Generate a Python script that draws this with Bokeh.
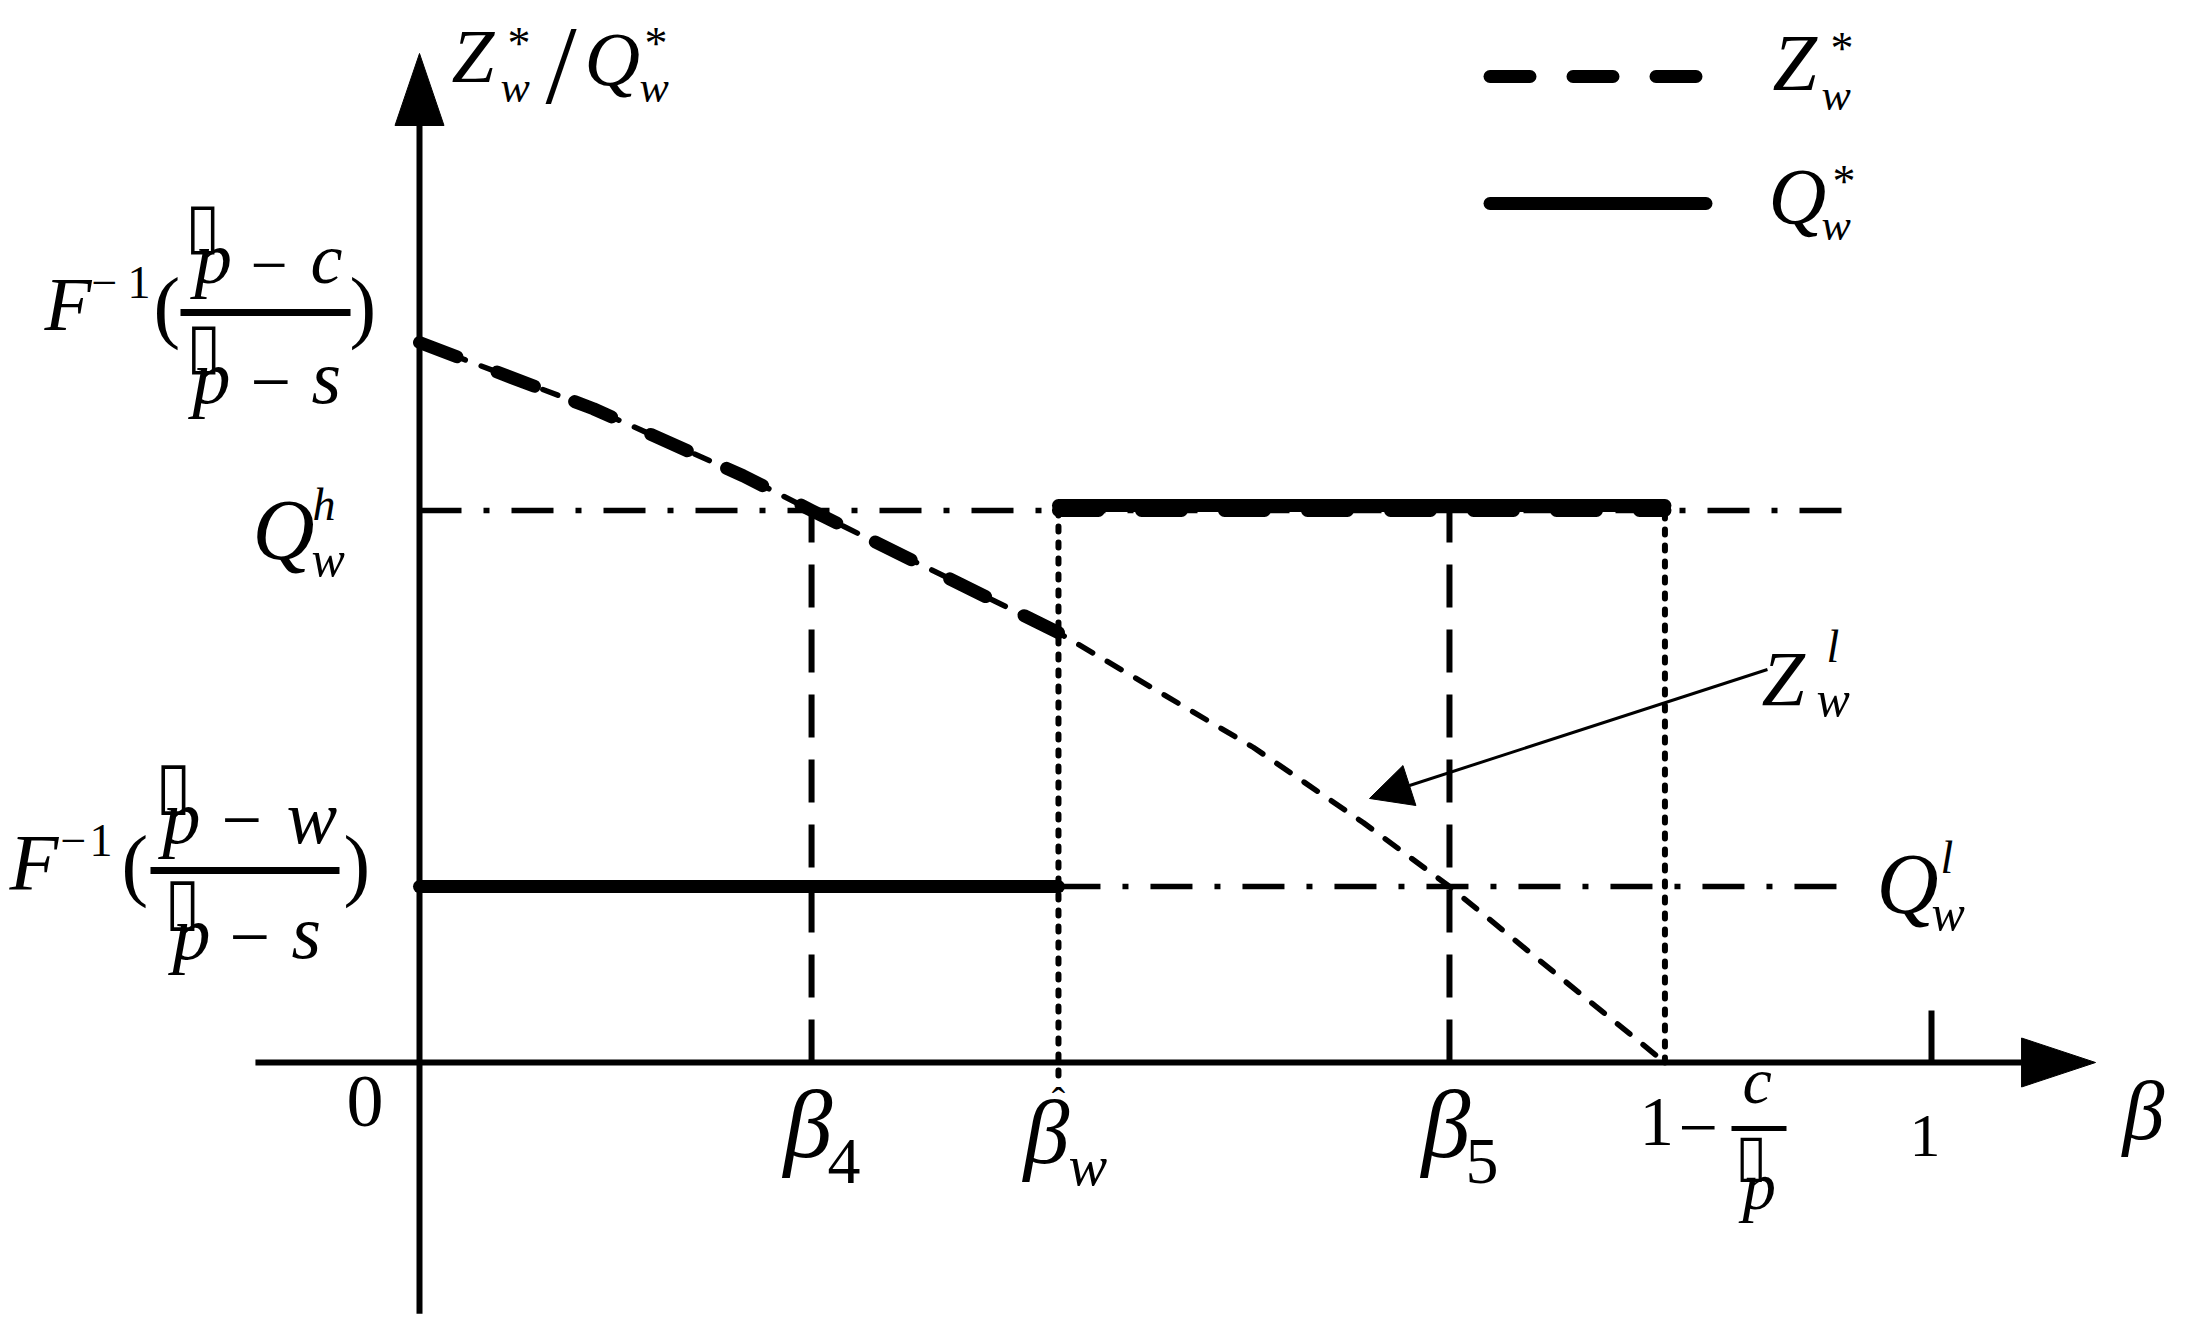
from bokeh.plotting import figure
from bokeh.models import Range1d, Arrow, NormalHead
from bokeh.core.properties import value
from bokeh.embed import file_html
from bokeh.resources import INLINE

# ---------------- data (schematic values) ----------------
beta_ticks = [0.2593, 0.4226, 0.6812, 0.8237, 1.0]     # beta_4, beta_hat_w, beta_5, 1-c/p, 1
beta_4, beta_hat_w, beta_5, beta_max, beta_one = beta_ticks
level_F_pc = 1.0        # F^-1((p-c)/(p-s))
level_Qh = 0.7667       # Q_w^h
level_Ql = 0.2444       # Q_w^l = F^-1((p-w)/(p-s))
ref_line_end = 0.947    # end of dash-dot reference lines

beta_curve = [0.0, 0.115, 0.214, 0.2593, 0.4226, 0.5516, 0.6243, 0.6812, 0.757, 0.8237]
z_low_curve = [1.0, 0.908, 0.815, 0.7667, 0.597, 0.4375, 0.333, 0.2444, 0.1139, 0.0]

axis_x_extent = [-0.1085, 1.1085]
axis_y_extent = [-0.349, 1.4014]
arrow_from = [0.8915, 0.5458]
arrow_to = [0.6283, 0.3667]

BOX = "\u25af"   # missing-glyph box that precedes p in the original formulas

# ---------------- layout ----------------
W, H = 2188, 1322
XS, YS = 1512.0, 720.0      # px per unit
X0, Y0 = 419.0, 1062.0      # canvas px of the origin
FONT = "Liberation Serif"
BASE_FIX = 0.34             # em: renderer puts the alphabetic baseline this much lower

p = figure(width=W, height=H,
           x_range=Range1d(-X0 / XS, (W - X0) / XS),
           y_range=Range1d(-(H - Y0) / YS, Y0 / YS),
           x_axis_type=None, y_axis_type=None,
           output_backend="svg", toolbar_location=None, min_border=0)
p.grid.visible = False
p.outline_line_color = None
p.background_fill_color = "white"
p.border_fill_color = "white"


def PX(rx):
    return (rx - X0) / XS


def PY(ry):
    return (Y0 - ry) / YS


def T(s, rx, ry, size, italic=True, align="left", font=FONT):
    p.text(x=[PX(rx)], y=[PY(ry - BASE_FIX * size)], text=[s], text_font=value(font),
           text_font_size=f"{size}px",
           text_font_style="italic" if italic else "normal",
           text_align=align, text_baseline="alphabetic", text_color="black")


BLK = "black"
DASHDOT = "42 22 6 22"
LONGDASH = "43 22"
SHORTDASH = "5 11"

# reference dash-dot lines
p.line([0, ref_line_end], [level_Qh, level_Qh], line_color=BLK, line_width=5.5, line_dash=DASHDOT)
p.line([beta_hat_w, ref_line_end], [level_Ql, level_Ql], line_color=BLK, line_width=5.5, line_dash=DASHDOT)

# vertical guides (drawn from the axis upward)
for b in (beta_4, beta_5):
    p.line([b, b], [0, level_Qh], line_color=BLK, line_width=6, line_dash=LONGDASH)
p.line([beta_hat_w, beta_hat_w], [-13 / YS, level_Qh], line_color=BLK, line_width=6,
       line_dash=SHORTDASH, line_cap="round")
p.line([beta_max, beta_max], [0, level_Qh], line_color=BLK, line_width=6,
       line_dash=SHORTDASH, line_cap="round")

# Z_w^l curve (thin dashed) and Z_w^* (thick dashed)
p.line(beta_curve, z_low_curve, line_color=BLK, line_width=5.5, line_dash="16 17", line_cap="round")
n_thick = sum(1 for b in beta_curve if b <= beta_hat_w)
p.line(beta_curve[:n_thick], z_low_curve[:n_thick], line_color=BLK, line_width=13,
       line_dash="40 43", line_cap="round", line_join="round")
p.line([beta_hat_w, beta_max], [level_Qh, level_Qh], line_color=BLK, line_width=13,
       line_dash="40 43", line_cap="round")

# Q_w^* (thick solid)
lift = 5 / YS
p.line([0, beta_hat_w], [level_Ql, level_Ql], line_color=BLK, line_width=13, line_cap="round")
p.line([beta_hat_w, beta_max], [level_Qh + lift, level_Qh + lift], line_color=BLK,
       line_width=13, line_cap="round")

# axes with arrow heads
x_base = axis_x_extent[1] - 74 / XS
y_base = axis_y_extent[1] - 72 / YS
p.line([axis_x_extent[0], x_base], [0, 0], line_color=BLK, line_width=6)
p.patch([x_base, x_base, axis_x_extent[1]], [24.5 / YS, -24.5 / YS, 0], color=BLK)
p.line([0, 0], [axis_y_extent[0], y_base], line_color=BLK, line_width=6)
p.patch([-24.5 / XS, 24.5 / XS, 0], [y_base, y_base, axis_y_extent[1]], color=BLK)
p.line([beta_one, beta_one], [0, 52 / YS], line_color=BLK, line_width=6)

# annotation arrow for Z_w^l
p.add_layout(Arrow(end=NormalHead(size=42, fill_color=BLK, line_color=BLK, line_width=1),
                   x_start=arrow_from[0], y_start=arrow_from[1],
                   x_end=arrow_to[0], y_end=arrow_to[1],
                   line_color=BLK, line_width=3))

# legend samples
p.line([PX(1489.5), PX(1705.5)], [PY(76), PY(76)], line_color=BLK, line_width=13,
       line_dash="40 43", line_cap="round")
p.line([PX(1489.5), PX(1705.5)], [PY(203), PY(203)], line_color=BLK, line_width=13,
       line_cap="round")

# fraction bars
for (a, b, yy, lw) in [(180, 350, 312, 7), (150, 339, 870, 7), (1731, 1786, 1128, 5)]:
    p.line([PX(a), PX(b)], [PY(yy), PY(yy)], line_color=BLK, line_width=lw)

# ---------------- texts ----------------
# y-axis title  Z_w^* / Q_w^*
T("Z", 451, 82, 77); T("*", 507, 59, 46, False); T("w", 500, 102, 44)
T("/", 545, 103, 112, False)
T("Q", 584, 85, 77); T("*", 644, 59, 46, False); T("w", 639, 102, 44)

# legend labels
T("Z", 1772, 90, 80); T("*", 1830, 64, 46, False); T("w", 1821, 110, 44)
T("Q", 1768, 224, 80); T("*", 1832, 197, 46, False); T("w", 1821, 240, 44)

# F^-1((p-c)/(p-s))
T("F", 44, 330, 77); T("−", 91, 298, 46, False); T("1", 127, 298, 46, False)
T("(", 153, 333, 80, False)
T(BOX, 185, 246, 63, False, font="DejaVu Sans")
T("p", 194, 282, 75); T("−", 250, 287, 66, False); T("c", 310, 283, 72)
T(BOX, 186, 366, 63, False, font="DejaVu Sans")
T("p", 192, 402, 76); T("−", 250, 406, 72, False); T("s", 311, 402, 76)
T(")", 349, 333, 80, False)

# F^-1((p-w)/(p-s))
T("F", 9, 890, 80); T("−", 60, 856, 46, False); T("1", 89, 856, 46, False)
T("(", 121, 891, 80, False)
T(BOX, 155, 806, 65, False, font="DejaVu Sans")
T("p", 162, 842, 76); T("−", 221, 844, 72, False); T("w", 286, 842, 76)
T(BOX, 164, 922, 65, False, font="DejaVu Sans")
T("p", 172, 958, 76); T("−", 229, 961, 72, False); T("s", 291, 957, 76)
T(")", 343, 891, 80, False)

# level labels
T("Q", 252, 559, 86); T("h", 312, 520, 46); T("w", 311, 575, 50)
T("Q", 1876, 913, 86); T("l", 1940, 873, 46); T("w", 1931, 929, 50)
T("Z", 1761, 705, 78); T("l", 1826, 662, 46); T("w", 1816, 715, 50)

# x-axis labels
T("0", 346, 1126, 74, False)
T("β", 783, 1157, 98); T("4", 827, 1183, 66, False)
T("ˆ", 1058, 1115, 40, False, align="center")
T("β", 1023, 1163, 92); T("w", 1068, 1185, 58)
T("β", 1421, 1157, 98); T("5", 1465, 1183, 66, False)
T("1", 1639, 1145, 69, False); T("−", 1678, 1151, 70, False)
T("c", 1742, 1102, 66); T(BOX, 1735, 1174, 58, False, font="DejaVu Sans"); T("p", 1742, 1208, 67)
T("1", 1909, 1157, 62, False)
T("β", 2122, 1139, 84)

open("out.html", "w").write(file_html(p, INLINE))
